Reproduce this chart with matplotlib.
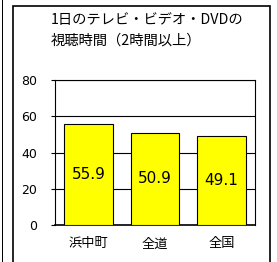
import matplotlib
matplotlib.use("Agg")
import matplotlib.pyplot as plt
from matplotlib.patches import Rectangle

plt.rcParams["font.family"] = ["Noto Sans CJK JP", "DejaVu Sans"]

categories = ["浜中町", "全道", "全国"]
values = [55.9, 50.9, 49.1]
yticks = [0, 20, 40, 60, 80]
title = "1日のテレビ・ビデオ・DVDの\n視聴時間（2時間以上）"

W, H = 277, 262
fig = plt.figure(figsize=(W / 100, H / 100), dpi=100)

# outer frame of the chart (runs off the bottom) and the edge of the neighbour
fig.patches.append(Rectangle((12.5 / W, -5 / H), 257 / W, 261 / H,
                             transform=fig.transFigure, fill=False,
                             ec="black", lw=1.2))
fig.patches.append(Rectangle((1.5 / W, 0), 1.5 / W, 1,
                             transform=fig.transFigure, fc="black", ec="none"))

fig.text(51 / W, 1 - 13 / H, title, ha="left", va="top", fontsize=10.3,
         linespacing=1.6)

ax = fig.add_axes([55 / W, 1 - 225 / H, 200 / W, 145 / H])
x = range(len(categories))
ax.bar(x, values, width=0.73, color="#FFFF00", edgecolor="black",
       linewidth=0.8, zorder=3)
for xi, v in zip(x, values):
    ax.text(xi, v / 2, f"{v}", ha="center", va="center", fontsize=11,
            family="DejaVu Sans", zorder=4)

ax.set_ylim(0, 80)
ax.set_xlim(-0.5, 2.5)
ax.set_yticks(yticks)
ax.set_yticklabels([str(t) for t in yticks], family="DejaVu Sans", fontsize=9)
ax.set_xticks(list(x))
ax.set_xticklabels(categories, fontsize=9.5)
ax.yaxis.grid(True, color="black", lw=0.8, zorder=0)
ax.tick_params(axis="y", length=3, width=0.8, pad=10)
ax.tick_params(axis="x", length=0, pad=9)
for s in ax.spines.values():
    s.set_linewidth(0.8)
ax.spines["bottom"].set_linewidth(1.2)

fig.savefig("out.png", dpi=100)
